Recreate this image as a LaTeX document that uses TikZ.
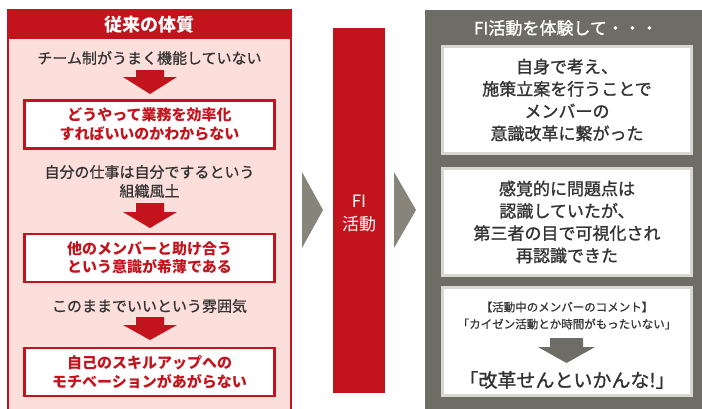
\documentclass[tikz,border=0pt]{standalone}
\usepackage{fontspec}
\setmainfont{Noto Sans CJK JP}
\newfontfamily\medfont{Noto Sans CJK JP}[FakeBold=1.2]
\newfontfamily\semifont{Noto Sans CJK JP}[FakeBold=0.7]
\definecolor{cred}{HTML}{C3141E}
\definecolor{cpink}{HTML}{FCDEDB}
\definecolor{cgray}{HTML}{6E6D65}
\definecolor{cchev}{HTML}{878579}
\definecolor{cbord}{HTML}{D8D8D3}
\definecolor{ctext}{HTML}{333333}
\tikzset{
  redbox/.style={draw=cred, line width=2.6pt, fill=white, minimum width=250pt, minimum height=48pt,
    text=cred, font=\fontsize{15}{18.5}\selectfont\bfseries, align=center, inner sep=0pt},
  graybox/.style={draw=cbord, line width=3pt, fill=white, minimum width=249pt, minimum height=107pt,
    text=ctext, font=\medfont\fontsize{17}{22.3}\selectfont, align=center, inner sep=0pt},
  plain/.style={text=ctext, font=\semifont\fontsize{15}{19}\selectfont, align=center, inner sep=0pt},
  headtxt/.style={text=white, font=\fontsize{18}{22}\selectfont\bfseries, inner sep=0pt},
  redarrow/.style={fill=cred},
  chev/.style={fill=cchev},
}
\begin{document}
\begin{tikzpicture}[x=1pt,y=-1pt]
\useasboundingbox (0,0) rectangle (702,408);
% left panel
\path[fill=cpink, draw=cred, line width=1.5pt] (8,10) rectangle (291,412);
\path[fill=cred] (8,10) rectangle (291,38.5);
\node[headtxt] (lh) at (149.5,25) {従来の体質};
\node[plain] (t1) at (149.5,58) {チーム制がうまく機能していない};
\path[redarrow] (136,70) -- (164,70) -- (164,77) -- (177,77) -- (150,94) -- (123,77) -- (136,77) -- cycle;
\node[redbox] (b1) at (149.5,124.5) {どうやって業務を効率化\\すればいいのかわからない};
\node[plain] (t2) at (149.5,181.5) {自分の仕事は自分でするという\\組織風土};
\path[redarrow] (136,203) -- (164,203) -- (164,212) -- (177,212) -- (150,228) -- (123,212) -- (136,212) -- cycle;
\node[redbox] (b2) at (149.5,258) {他のメンバーと助け合う\\という意識が希薄である};
\node[plain] (t3) at (149.5,306) {このままでいいという雰囲気};
\path[redarrow] (136,317) -- (164,317) -- (164,325) -- (177,325) -- (150,340) -- (123,325) -- (136,325) -- cycle;
\node[redbox] (b3) at (149.5,372) {自己のスキルアップへの\\モチベーションがあがらない};
% middle
\path[chev] (302,172) -- (323,210) -- (302,248) -- cycle;
\path[fill=cred] (333,28) rectangle (385,393);
\node[text=white, font=\fontsize{17}{23}\selectfont, align=center, inner sep=0pt] (fi) at (359,213) {FI\\活動};
\path[chev] (394,172) -- (416,210) -- (394,248) -- cycle;
% right panel
\path[fill=cgray] (425,10) rectangle (704,412);
\node[text=white, font=\medfont\fontsize{17}{22}\selectfont, inner sep=0pt] (rh) at (566,28) {FI活動を体験して・・・};
\node[graybox] (g1) at (567,100) {自身で考え、\\施策立案を行うことで\\メンバーの\\意識改革に繋がった};
\node[graybox] (g2) at (567,222) {感覚的に問題点は\\認識していたが、\\第三者の目で可視化され\\再認識できた};
\node[graybox, minimum height=108pt] (g3) at (567,341.5) {};
\node[text=ctext, font=\semifont\fontsize{11.5}{17}\selectfont, align=center, inner sep=0pt] (c1) at (567,315.5) {【活動中のメンバーのコメント】\\「カイゼン活動とか時間がもったいない」};
\path[fill=cgray] (550,338) -- (583,338) -- (583,347) -- (595,347) -- (566.5,363) -- (538,347) -- (550,347) -- cycle;
\node[text=ctext, font=\medfont\fontsize{19}{22}\selectfont, inner sep=0pt] (c2) at (567,380) {「改革せんといかんな!」};
\end{tikzpicture}
\end{document}
